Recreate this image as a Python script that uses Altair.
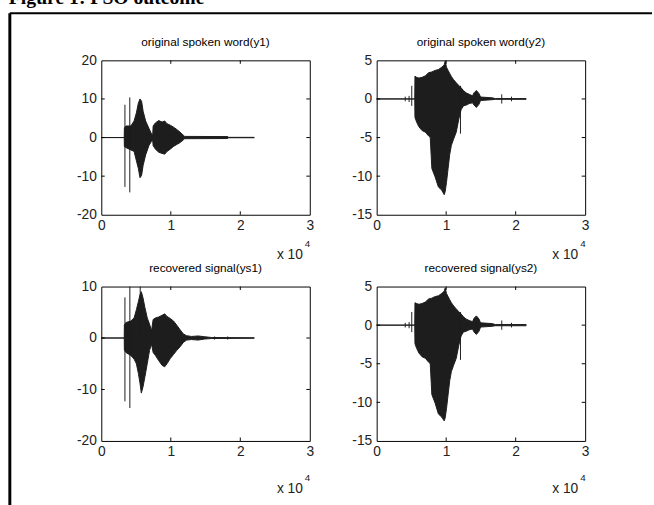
import altair as alt
import pandas as pd

# ---------------- data ----------------
x_ticks = [0, 10000, 20000, 30000]

# original spoken word (y1): envelope of the waveform
y1_x  = [0, 3300, 3320, 3540, 4250, 4720, 5050, 5330, 5570, 5800, 6020, 6380, 6850, 7230, 7400,
         7460, 7790, 8270, 8740, 9120, 9450, 9920, 10390, 10860, 11340, 11810, 12000, 18200, 18250, 22000]
y1_hi = [0, 0, 2.5, 3.0, 3.0, 4.3, 6.4, 8.9, 10.0, 9.4, 6.8, 4.3, 2.4, 0.9, 0.8,
         3.0, 3.8, 4.4, 4.0, 4.3, 3.6, 3.2, 2.7, 2.1, 1.4, 0.6, 0.3, 0.25, 0.05, 0.05]
y1_lo = [0, 0, -2.3, -2.6, -3.2, -3.6, -6.0, -8.0, -10.4, -9.8, -7.2, -4.5, -2.1, -0.9, -0.8,
         -2.1, -3.0, -3.8, -4.1, -4.3, -3.6, -3.0, -2.3, -1.8, -1.3, -0.6, -0.3, -0.25, -0.05, -0.05]
y1_spike_x  = [3400, 4100]
y1_spike_hi = [8.5, 10.4]
y1_spike_lo = [-12.8, -14.2]
y1_ticks = [-20, -10, 0, 10, 20]

# original spoken word (y2)
y2_x  = [0, 3970, 5480, 5510, 5750, 6070, 6540, 7010, 7480, 7710, 7940, 8410, 8880, 9350, 9720,
         9860, 10050, 10280, 10510, 10750, 11070, 11450, 11820, 12150, 12480, 12850, 13320, 13790,
         14020, 14350, 14720, 14950, 16590, 17060, 21500]
y2_hi = [0, 0, 0, 2.95, 2.8, 2.7, 2.8, 3.0, 3.4, 3.45, 3.5, 3.7, 3.8, 4.1, 4.4,
         4.9, 4.1, 3.7, 3.3, 2.9, 2.5, 2.1, 1.75, 1.45, 1.1, 0.8, 0.6, 0.4,
         0.8, 1.1, 0.7, 0.25, 0.15, 0.05, 0.05]
y2_lo = [0, 0, 0, -2.4, -3.0, -3.6, -4.1, -4.3, -4.8, -5.0, -9.0, -10.1, -11.4, -11.8, -12.4,
         -12.0, -10.8, -9.0, -7.2, -6.0, -5.2, -4.3, -2.6, -1.4, -0.9, -0.8, -0.6, -0.5,
         -0.8, -1.1, -0.7, -0.2, -0.1, -0.05, -0.05]
y2_spike_x  = [4110, 4670, 5050, 12060, 18000, 19400]
y2_spike_hi = [0.3, 0.4, 1.7, 1.7, 0.6, 0.3]
y2_spike_lo = [-0.3, -0.4, -0.9, -4.5, -0.6, -0.3]
y2_ticks = [-15, -10, -5, 0, 5]

# recovered signal (ys1)
ys1_x  = [0, 3300, 3320, 3540, 4250, 4720, 5050, 5340, 5570, 5760, 6000, 6280, 6610, 6940, 7230,
          7460, 7790, 8270, 8740, 9120, 9450, 9920, 10390, 10860, 11340, 11810, 12280, 12990,
          13930, 14880, 15820, 22000]
ys1_hi = [0, 0, 2.5, 3.0, 3.3, 3.9, 5.5, 7.1, 8.4, 9.0, 7.8, 5.9, 3.9, 2.7, 1.4,
          3.6, 3.9, 4.1, 4.4, 4.7, 4.2, 3.8, 3.3, 2.5, 1.6, 0.8, 0.45, 0.3,
          0.4, 0.25, 0.1, 0.05]
ys1_lo = [0, 0, -2.3, -2.8, -3.4, -4.1, -5.0, -6.9, -8.8, -10.7, -9.5, -7.5, -5.0, -2.4, -1.2,
          -2.8, -3.4, -4.4, -5.3, -5.6, -5.0, -4.0, -3.2, -2.4, -1.7, -0.85, -0.4, -0.3,
          -0.4, -0.2, -0.1, -0.05]
ys1_spike_x  = [3400, 4110, 5600, 16300, 18190]
ys1_spike_hi = [7.9, 10.0, 10.0, 0.3, 0.3]
ys1_spike_lo = [-12.3, -13.6, 0.0, -0.3, -0.3]
ys1_ticks = [-20, -10, 0, 10]

# recovered signal (ys2)
ys2_x  = [0, 3970, 5480, 5510, 5750, 6070, 6540, 7010, 7480, 7710, 7940, 8410, 8880, 9350, 9720,
          9860, 10050, 10280, 10510, 10750, 11070, 11450, 11820, 12150, 12480, 12850, 13320, 13790,
          14020, 14350, 14720, 14950, 16590, 17060, 21500]
ys2_hi = [0, 0, 0, 2.9, 2.8, 2.7, 2.8, 3.0, 3.4, 3.45, 3.5, 3.7, 3.8, 4.1, 4.4,
          4.8, 4.1, 3.7, 3.3, 2.9, 2.5, 2.1, 1.75, 1.45, 1.1, 0.8, 0.6, 0.45,
          0.9, 1.2, 0.8, 0.3, 0.2, 0.08, 0.08]
ys2_lo = [0, 0, 0, -2.4, -3.0, -3.6, -4.1, -4.3, -4.8, -5.0, -9.0, -10.1, -11.5, -11.9, -12.4,
          -12.0, -10.8, -9.0, -7.2, -6.0, -5.2, -4.3, -2.6, -1.4, -0.9, -0.8, -0.6, -0.5,
          -0.9, -1.2, -0.8, -0.25, -0.15, -0.08, -0.08]
ys2_spike_x  = [4110, 4670, 5050, 12060, 18000, 19400]
ys2_spike_hi = [0.3, 0.4, 1.7, 1.7, 0.6, 0.3]
ys2_spike_lo = [-0.3, -0.4, -0.9, -4.5, -0.6, -0.3]
ys2_ticks = [-15, -10, -5, 0, 5]

titles = ["original spoken word(y1)", "original spoken word(y2)",
          "recovered signal(ys1)", "recovered signal(ys2)"]
caption = "Figure 1: PSO outcome"

# ---------------- styling ----------------
INK = "#1d1d1d"
FONT = "Liberation Sans"
W, H = 212, 157


def panel(xs, hi, lo, sx, shi, slo, yticks, title, mult_y, sup_y, extras=()):
    ymin, ymax = yticks[0], yticks[-1]
    env = pd.DataFrame({"x": xs, "hi": hi, "lo": lo})
    spk = pd.DataFrame({"x": sx, "hi": shi, "lo": slo})

    xsc = alt.Scale(domain=[0, 30000], nice=False, zero=False)
    ysc = alt.Scale(domain=[ymin, ymax], nice=False, zero=False)
    xaxis = alt.Axis(values=x_ticks, labelExpr="toString(datum.value / 10000)", title=None)
    yaxis = alt.Axis(values=yticks, labelExpr="toString(datum.value)", title=None)

    area = alt.Chart(env).mark_area(color=INK, stroke=INK, strokeWidth=1).encode(
        x=alt.X("x:Q", scale=xsc, axis=xaxis),
        y=alt.Y("hi:Q", scale=ysc, axis=yaxis),
        y2="lo:Q",
    )
    spikes = alt.Chart(spk).mark_rule(color=INK, strokeWidth=1).encode(
        x=alt.X("x:Q", scale=xsc, axis=xaxis),
        y=alt.Y("hi:Q", scale=ysc, axis=yaxis),
        y2="lo:Q",
    )

    # inward tick marks on all four sides (MATLAB box style)
    tx = 3.5 / W * 30000
    ty = 3.5 / H * (ymax - ymin)
    rows = []
    for v in x_ticks[1:-1]:
        rows.append({"x": v, "x2": v, "y": ymin, "y2": ymin + ty})
        rows.append({"x": v, "x2": v, "y": ymax, "y2": ymax - ty})
    for v in yticks[1:-1]:
        rows.append({"x": 0, "x2": tx, "y": v, "y2": v})
        rows.append({"x": 30000, "x2": 30000 - tx, "y": v, "y2": v})
    ticks = alt.Chart(pd.DataFrame(rows)).mark_rule(color="#000", strokeWidth=1).encode(
        x=alt.X("x:Q", scale=xsc, axis=xaxis),
        x2="x2:Q",
        y=alt.Y("y:Q", scale=ysc, axis=yaxis),
        y2="y2:Q",
    )

    one = pd.DataFrame({"a": [0]})
    ttl = alt.Chart(one).mark_text(
        text=title, align="center", baseline="alphabetic", font=FONT, fontSize=12, color="#000"
    ).encode(x=alt.value(W / 2), y=alt.value(-15))
    mult = alt.Chart(one).mark_text(
        text="x 10", align="right", baseline="alphabetic", font=FONT, fontSize=14, color="#222"
    ).encode(x=alt.value(W - 7), y=alt.value(mult_y))
    sup = alt.Chart(one).mark_text(
        text="4", align="left", baseline="alphabetic", font=FONT, fontSize=10, color="#222"
    ).encode(x=alt.value(W - 5), y=alt.value(sup_y))

    layers = [area, spikes, ticks, ttl, mult, sup] + list(extras)
    return alt.layer(*layers).properties(width=W, height=H)


one = pd.DataFrame({"a": [0]})
frame_left = alt.Chart(one).mark_rule(color="#000", strokeWidth=3).encode(
    x=alt.value(-93), y=alt.value(-48), y2=alt.value(460))
frame_top = alt.Chart(one).mark_rule(color="#000", strokeWidth=2).encode(
    x=alt.value(-93), x2=alt.value(560), y=alt.value(-48))
cap = alt.Chart(one).mark_text(
    text=caption, align="left", baseline="alphabetic", font="Liberation Serif",
    fontSize=20, fontWeight="bold", color="#000"
).encode(x=alt.value(-94), y=alt.value(-57))

tl = panel(y1_x, y1_hi, y1_lo, y1_spike_x, y1_spike_hi, y1_spike_lo, y1_ticks, titles[0],
           202, 190, extras=(frame_left, frame_top, cap))
tr = panel(y2_x, y2_hi, y2_lo, y2_spike_x, y2_spike_hi, y2_spike_lo, y2_ticks, titles[1],
           202, 190)
bl = panel(ys1_x, ys1_hi, ys1_lo, ys1_spike_x, ys1_spike_hi, ys1_spike_lo, ys1_ticks, titles[2],
           210, 198)
br = panel(ys2_x, ys2_hi, ys2_lo, ys2_spike_x, ys2_spike_hi, ys2_spike_lo, ys2_ticks, titles[3],
           210, 198)

chart = alt.concat(
    tl, tr, bl, br, columns=2, spacing={"row": 73, "column": 68}, bounds="flush"
).properties(
    autosize=alt.AutoSizeParams(type="pad"),
    padding={"left": 8, "top": -17, "right": 0, "bottom": 0},
    background="#ffffff",
).configure_view(
    stroke="#000", strokeWidth=1
).configure_axis(
    domain=False, ticks=False, tickSize=0, grid=False,
    labelFont=FONT, labelFontSize=14, labelColor="#222", labelPadding=5,
    labelFlush=False, labelOverlap=False,
).configure_axisX(labelPadding=4)

chart.save("out.html", embed_options={"renderer": "svg", "actions": False})
